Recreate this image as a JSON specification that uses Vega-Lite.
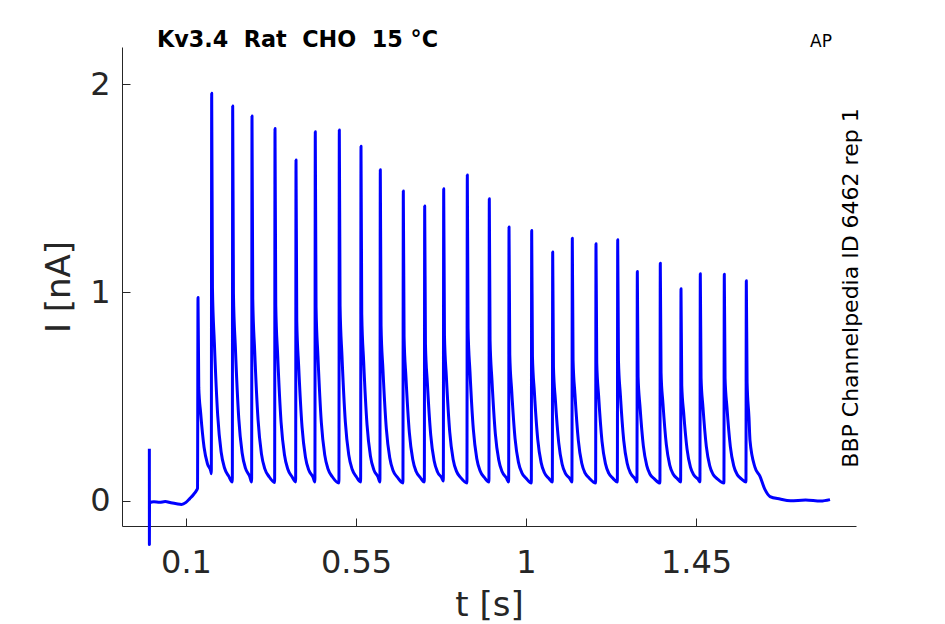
{
  "$schema": "https://vega.github.io/schema/vega-lite/v6.json",
  "width": 734,
  "height": 479,
  "autosize": "none",
  "padding": {"left": 122, "top": 47, "right": 89, "bottom": 98},
  "background": "white",
  "config": {
    "view": {"stroke": null},
    "axis": {
      "grid": false,
      "domainColor": "#262626",
      "tickColor": "#262626",
      "tickSize": -8,
      "labelFont": "DejaVu Sans",
      "labelFontSize": 32,
      "labelColor": "#262626",
      "titleFont": "DejaVu Sans",
      "titleFontSize": 34,
      "titleFontWeight": "normal",
      "titleColor": "#262626"
    }
  },
  "layer": [
    {
      "data": {
        "values": [
          {"t": 0.003, "i": 0.25}, {"t": 0.0031, "i": -0.21}, {"t": 0.0034, "i": -0.01},
          {"t": 0.015, "i": -0.005}, {"t": 0.03, "i": -0.008}, {"t": 0.045, "i": -0.004},
          {"t": 0.06, "i": -0.01}, {"t": 0.075, "i": -0.015}, {"t": 0.088, "i": -0.018},
          {"t": 0.1, "i": -0.008}, {"t": 0.11, "i": 0.01}, {"t": 0.12, "i": 0.03},
          {"t": 0.128, "i": 0.05}, {"t": 0.1305, "i": 0.06},
          {"t": 0.1318, "i": 0.976}, {"t": 0.1338, "i": 0.543}, {"t": 0.1388, "i": 0.422},
          {"t": 0.1478, "i": 0.257}, {"t": 0.1568, "i": 0.177}, {"t": 0.1658, "i": 0.141},
          {"t": 0.167, "i": 0.13},
          {"t": 0.168, "i": 1.957}, {"t": 0.17, "i": 1.024}, {"t": 0.175, "i": 0.762},
          {"t": 0.184, "i": 0.407}, {"t": 0.193, "i": 0.234}, {"t": 0.202, "i": 0.157},
          {"t": 0.213, "i": 0.118}, {"t": 0.2226, "i": 0.09},
          {"t": 0.2236, "i": 1.896}, {"t": 0.2256, "i": 0.993}, {"t": 0.2306, "i": 0.74},
          {"t": 0.2396, "i": 0.397}, {"t": 0.2486, "i": 0.229}, {"t": 0.2576, "i": 0.155},
          {"t": 0.2686, "i": 0.117}, {"t": 0.2737, "i": 0.09},
          {"t": 0.2747, "i": 1.848}, {"t": 0.2767, "i": 0.969}, {"t": 0.2817, "i": 0.723},
          {"t": 0.2907, "i": 0.389}, {"t": 0.2997, "i": 0.225}, {"t": 0.3087, "i": 0.153},
          {"t": 0.3197, "i": 0.116}, {"t": 0.3346, "i": 0.088},
          {"t": 0.3356, "i": 1.787}, {"t": 0.3376, "i": 0.939}, {"t": 0.3426, "i": 0.701},
          {"t": 0.3516, "i": 0.378}, {"t": 0.3606, "i": 0.221}, {"t": 0.3696, "i": 0.151},
          {"t": 0.3806, "i": 0.115}, {"t": 0.3902, "i": 0.09},
          {"t": 0.3912, "i": 1.636}, {"t": 0.3932, "i": 0.863}, {"t": 0.3982, "i": 0.647},
          {"t": 0.4072, "i": 0.353}, {"t": 0.4162, "i": 0.209}, {"t": 0.4252, "i": 0.146},
          {"t": 0.4362, "i": 0.113}, {"t": 0.4412, "i": 0.09},
          {"t": 0.4422, "i": 1.772}, {"t": 0.4442, "i": 0.931}, {"t": 0.4492, "i": 0.696},
          {"t": 0.4582, "i": 0.376}, {"t": 0.4672, "i": 0.22}, {"t": 0.4762, "i": 0.151},
          {"t": 0.4872, "i": 0.115}, {"t": 0.5048, "i": 0.085},
          {"t": 0.5058, "i": 1.78}, {"t": 0.5078, "i": 0.935}, {"t": 0.5128, "i": 0.698},
          {"t": 0.5218, "i": 0.377}, {"t": 0.5308, "i": 0.22}, {"t": 0.5398, "i": 0.151},
          {"t": 0.5508, "i": 0.115}, {"t": 0.5622, "i": 0.09},
          {"t": 0.5632, "i": 1.702}, {"t": 0.5652, "i": 0.896}, {"t": 0.5702, "i": 0.67},
          {"t": 0.5792, "i": 0.364}, {"t": 0.5882, "i": 0.214}, {"t": 0.5972, "i": 0.148},
          {"t": 0.6082, "i": 0.114}, {"t": 0.6133, "i": 0.09},
          {"t": 0.6143, "i": 1.59}, {"t": 0.6163, "i": 0.84}, {"t": 0.6213, "i": 0.63},
          {"t": 0.6303, "i": 0.345}, {"t": 0.6393, "i": 0.206}, {"t": 0.6483, "i": 0.144},
          {"t": 0.6593, "i": 0.113}, {"t": 0.6742, "i": 0.085},
          {"t": 0.6752, "i": 1.487}, {"t": 0.6772, "i": 0.789}, {"t": 0.6822, "i": 0.593},
          {"t": 0.6912, "i": 0.327}, {"t": 0.7002, "i": 0.198}, {"t": 0.7092, "i": 0.14},
          {"t": 0.7202, "i": 0.111}, {"t": 0.7308, "i": 0.09},
          {"t": 0.7318, "i": 1.415}, {"t": 0.7338, "i": 0.753}, {"t": 0.7388, "i": 0.567},
          {"t": 0.7478, "i": 0.315}, {"t": 0.7568, "i": 0.192}, {"t": 0.7658, "i": 0.138},
          {"t": 0.7768, "i": 0.11}, {"t": 0.7811, "i": 0.095},
          {"t": 0.7821, "i": 1.498}, {"t": 0.7841, "i": 0.794}, {"t": 0.7891, "i": 0.597},
          {"t": 0.7981, "i": 0.329}, {"t": 0.8071, "i": 0.198}, {"t": 0.8161, "i": 0.141},
          {"t": 0.8271, "i": 0.111}, {"t": 0.8436, "i": 0.085},
          {"t": 0.8446, "i": 1.564}, {"t": 0.8466, "i": 0.827}, {"t": 0.8516, "i": 0.621},
          {"t": 0.8606, "i": 0.341}, {"t": 0.8696, "i": 0.203}, {"t": 0.8786, "i": 0.143},
          {"t": 0.8896, "i": 0.112}, {"t": 0.9018, "i": 0.09},
          {"t": 0.9028, "i": 1.45}, {"t": 0.9048, "i": 0.77}, {"t": 0.9098, "i": 0.58},
          {"t": 0.9188, "i": 0.321}, {"t": 0.9278, "i": 0.195}, {"t": 0.9368, "i": 0.139},
          {"t": 0.9478, "i": 0.11}, {"t": 0.954, "i": 0.09},
          {"t": 0.955, "i": 1.314}, {"t": 0.957, "i": 0.702}, {"t": 0.962, "i": 0.531},
          {"t": 0.971, "i": 0.298}, {"t": 0.98, "i": 0.184}, {"t": 0.989, "i": 0.134},
          {"t": 1.0, "i": 0.108}, {"t": 1.014, "i": 0.085},
          {"t": 1.015, "i": 1.298}, {"t": 1.017, "i": 0.694}, {"t": 1.022, "i": 0.525},
          {"t": 1.031, "i": 0.295}, {"t": 1.04, "i": 0.183}, {"t": 1.049, "i": 0.133},
          {"t": 1.06, "i": 0.108}, {"t": 1.0696, "i": 0.09},
          {"t": 1.0706, "i": 1.194}, {"t": 1.0726, "i": 0.642}, {"t": 1.0776, "i": 0.487},
          {"t": 1.0866, "i": 0.278}, {"t": 1.0956, "i": 0.175}, {"t": 1.1046, "i": 0.13},
          {"t": 1.1156, "i": 0.107}, {"t": 1.1215, "i": 0.09},
          {"t": 1.1225, "i": 1.261}, {"t": 1.1245, "i": 0.676}, {"t": 1.1295, "i": 0.512},
          {"t": 1.1385, "i": 0.289}, {"t": 1.1475, "i": 0.18}, {"t": 1.1565, "i": 0.132},
          {"t": 1.1675, "i": 0.108}, {"t": 1.1842, "i": 0.085},
          {"t": 1.1852, "i": 1.234}, {"t": 1.1872, "i": 0.662}, {"t": 1.1922, "i": 0.502},
          {"t": 1.2012, "i": 0.284}, {"t": 1.2102, "i": 0.178}, {"t": 1.2192, "i": 0.131},
          {"t": 1.2302, "i": 0.107}, {"t": 1.2417, "i": 0.09},
          {"t": 1.2427, "i": 1.253}, {"t": 1.2447, "i": 0.672}, {"t": 1.2497, "i": 0.509},
          {"t": 1.2587, "i": 0.288}, {"t": 1.2677, "i": 0.18}, {"t": 1.2767, "i": 0.132},
          {"t": 1.2877, "i": 0.107}, {"t": 1.2936, "i": 0.09},
          {"t": 1.2946, "i": 1.101}, {"t": 1.2966, "i": 0.596}, {"t": 1.3016, "i": 0.454},
          {"t": 1.3106, "i": 0.262}, {"t": 1.3196, "i": 0.168}, {"t": 1.3286, "i": 0.126},
          {"t": 1.3396, "i": 0.105}, {"t": 1.3544, "i": 0.085},
          {"t": 1.3554, "i": 1.141}, {"t": 1.3574, "i": 0.616}, {"t": 1.3624, "i": 0.468},
          {"t": 1.3714, "i": 0.269}, {"t": 1.3804, "i": 0.171}, {"t": 1.3894, "i": 0.128},
          {"t": 1.4004, "i": 0.106}, {"t": 1.4092, "i": 0.09},
          {"t": 1.4102, "i": 1.018}, {"t": 1.4122, "i": 0.554}, {"t": 1.4172, "i": 0.424},
          {"t": 1.4262, "i": 0.248}, {"t": 1.4352, "i": 0.161}, {"t": 1.4442, "i": 0.123},
          {"t": 1.4552, "i": 0.104}, {"t": 1.4603, "i": 0.09},
          {"t": 1.4613, "i": 1.09}, {"t": 1.4633, "i": 0.59}, {"t": 1.4683, "i": 0.45},
          {"t": 1.4773, "i": 0.26}, {"t": 1.4863, "i": 0.167}, {"t": 1.4953, "i": 0.126},
          {"t": 1.5063, "i": 0.105}, {"t": 1.5238, "i": 0.085},
          {"t": 1.5248, "i": 1.088}, {"t": 1.5268, "i": 0.589}, {"t": 1.5318, "i": 0.449},
          {"t": 1.5408, "i": 0.26}, {"t": 1.5498, "i": 0.167}, {"t": 1.5588, "i": 0.126},
          {"t": 1.5698, "i": 0.105}, {"t": 1.5821, "i": 0.09},
          {"t": 1.5831, "i": 1.056}, {"t": 1.5851, "i": 0.57}, {"t": 1.5901, "i": 0.4},
          {"t": 1.5928, "i": 0.29}, {"t": 1.6061, "i": 0.16}, {"t": 1.6193, "i": 0.117},
          {"t": 1.6326, "i": 0.053}, {"t": 1.6458, "i": 0.02}, {"t": 1.6723, "i": 0.008},
          {"t": 1.7, "i": 0.0}, {"t": 1.74, "i": 0.003}, {"t": 1.78, "i": -0.002},
          {"t": 1.8046, "i": 0.005}
        ]
      },
      "mark": {"type": "line", "color": "#0000ff", "strokeWidth": 3, "strokeJoin": "round", "interpolate": "monotone", "clip": false},
      "encoding": {
        "x": {
          "field": "t",
          "type": "quantitative",
          "title": "t [s]",
          "scale": {"domain": [-0.0694, 1.8734], "nice": false, "zero": false},
          "axis": {
            "values": [0.1, 0.55, 1, 1.45],
            "format": ".2~f",
            "labelBaseline": "alphabetic",
            "labelPadding": 54,
            "titleBaseline": "alphabetic",
            "titleY": 89
          }
        },
        "y": {
          "field": "i",
          "type": "quantitative",
          "title": "I [nA]",
          "scale": {"domain": [-0.1215, 2.179], "nice": false, "zero": false},
          "axis": {
            "values": [0, 1, 2],
            "format": ".2~f",
            "labelPadding": 20,
            "titleBaseline": "alphabetic",
            "titleX": -53
          }
        },
        "order": {"field": "t", "type": "quantitative"}
      }
    },
    {
      "data": {"values": [{"label": "Kv3.4\u00a0\u00a0Rat\u00a0\u00a0CHO\u00a0\u00a015\u00a0°C"}]},
      "mark": {"type": "text", "font": "DejaVu Sans", "fontSize": 22.3, "fontWeight": "bold", "color": "black", "align": "left", "baseline": "alphabetic"},
      "encoding": {
        "x": {"datum": 0.0232, "type": "quantitative"},
        "y": {"datum": 2.179, "type": "quantitative"},
        "text": {"field": "label"}
      }
    },
    {
      "data": {"values": [{"label": "AP"}]},
      "mark": {"type": "text", "font": "DejaVu Sans", "fontSize": 17, "color": "black", "align": "center", "baseline": "alphabetic"},
      "encoding": {
        "x": {"datum": 1.7808, "type": "quantitative"},
        "y": {"datum": 2.179, "type": "quantitative"},
        "text": {"field": "label"}
      }
    },
    {
      "data": {"values": [{"label": "BBP Channelpedia ID 6462 rep 1"}]},
      "mark": {"type": "text", "font": "DejaVu Sans", "fontSize": 22, "color": "black", "align": "center", "baseline": "alphabetic", "angle": 270},
      "encoding": {
        "x": {"datum": 1.8795, "type": "quantitative"},
        "y": {"datum": 1.0216, "type": "quantitative"},
        "text": {"field": "label"}
      }
    }
  ]
}
